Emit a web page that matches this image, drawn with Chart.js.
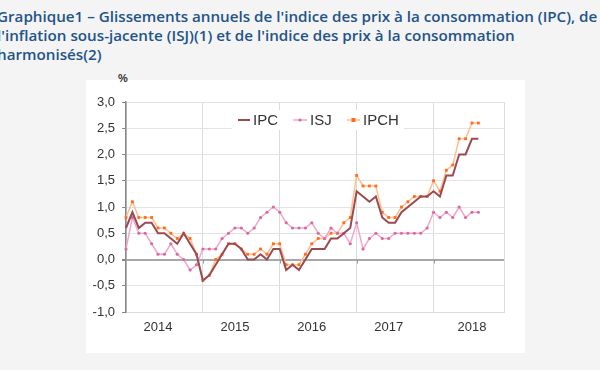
<!doctype html>
<html lang="fr">
<head>
<meta charset="UTF-8">
<title>Graphique1 – Glissements annuels IPC, ISJ, IPCH</title>
<script src="https://cdn.jsdelivr.net/npm/chart.js"></script>
<style>
  html, body { margin: 0; padding: 0; }
  body { width: 600px; height: 370px; background: #f4f4f4; position: relative; overflow: hidden; }
  .titre {
    position: absolute; left: -3px; top: 7px;
    font-family: "Open Sans", sans-serif; font-weight: 600; font-size: 15.2px; line-height: 19px;
    color: #22538a; white-space: nowrap;
  }
  .boite { position: absolute; left: 86px; top: 80px; width: 439px; height: 273px; background: #fff; }
  .pct { position: absolute; left: 118px; top: 72px; font: bold 11px "Liberation Sans", Arial, sans-serif; color: #333; }
  canvas { position: absolute; left: 0; top: 0; }
</style>
</head>
<body>
<div class="boite"></div>
<div class="titre">Graphique1 – Glissements annuels de l'indice des prix à la consommation (IPC), de<br>l'inflation sous-jacente (ISJ)(1) et de l'indice des prix à la consommation<br>harmonisés(2)</div>
<div class="pct">%</div>
<canvas id="graphique1" width="600" height="370"></canvas>

<script>
// années affichées sous l'axe
const annees = ['2014', '2015', '2016', '2017', '2018'];
const mois = ['01', '02', '03', '04', '05', '06', '07', '08', '09', '10', '11', '12'];

// glissements annuels en %, de janvier 2014 à août 2018
const ipc = [
  0.6, 0.9, 0.6, 0.7, 0.7, 0.5, 0.5, 0.4, 0.3, 0.5, 0.3, 0.1,
  -0.4, -0.3, -0.1, 0.1, 0.3, 0.3, 0.2, 0.0, 0.0, 0.1, 0.0, 0.2,
  0.2, -0.2, -0.1, -0.2, 0.0, 0.2, 0.2, 0.2, 0.4, 0.4, 0.5, 0.6,
  1.3, 1.2, 1.1, 1.2, 0.8, 0.7, 0.7, 0.9, 1.0, 1.1, 1.2, 1.2,
  1.3, 1.2, 1.6, 1.6, 2.0, 2.0, 2.3, 2.3
];
const isj = [
  0.2, 0.8, 0.5, 0.5, 0.3, 0.1, 0.1, 0.3, 0.1, 0.0, -0.2, -0.1,
  0.2, 0.2, 0.2, 0.4, 0.5, 0.6, 0.6, 0.5, 0.6, 0.8, 0.9, 1.0,
  0.9, 0.7, 0.6, 0.6, 0.6, 0.7, 0.5, 0.4, 0.6, 0.5, 0.5, 0.3,
  0.7, 0.2, 0.4, 0.5, 0.4, 0.4, 0.5, 0.5, 0.5, 0.5, 0.5, 0.6,
  0.9, 0.8, 0.9, 0.8, 1.0, 0.8, 0.9, 0.9
];
const ipch = [
  0.8, 1.1, 0.8, 0.8, 0.8, 0.6, 0.6, 0.5, 0.4, 0.5, 0.4, 0.1,
  -0.4, -0.3, 0.0, 0.1, 0.3, 0.3, 0.2, 0.1, 0.1, 0.2, 0.1, 0.3,
  0.3, -0.1, -0.1, -0.1, 0.1, 0.3, 0.4, 0.4, 0.5, 0.5, 0.7, 0.8,
  1.6, 1.4, 1.4, 1.4, 0.9, 0.8, 0.8, 1.0, 1.1, 1.2, 1.2, 1.2,
  1.5, 1.3, 1.7, 1.8, 2.3, 2.3, 2.6, 2.6
];

// un libellé par mois, l'axe va jusqu'à décembre 2018
const labels = [];
annees.forEach(a => mois.forEach(m => labels.push(m + '/' + a)));

const police = '"Liberation Sans", Arial, sans-serif';

// position de l'étiquette de l'année dans son groupe de 12 mois
const etiquetteAnnee = (i) => {
  const a = Math.floor(i / 12);
  const pos = a === annees.length - 1 ? 6 : 5;
  return i % 12 === pos ? annees[a] : '';
};

// légende posée dans la zone du graphique, sur fond blanc
const legendeInterne = {
  id: 'legendeInterne',
  beforeDatasetsDraw(chart) {
    const c = chart.ctx;
    const y = 120;
    const items = [
      { ds: 0, x: 238, w: 12, txt: 'IPC' },
      { ds: 1, x: 293, w: 14, txt: 'ISJ' },
      { ds: 2, x: 347, w: 13, txt: 'IPCH' }
    ];
    c.save();
    c.fillStyle = '#fff';
    c.fillRect(232, 110, 172, 20);
    c.font = '15px ' + police;
    c.textBaseline = 'middle';
    items.forEach(it => {
      const d = chart.data.datasets[it.ds];
      c.strokeStyle = d.borderColor;
      c.lineWidth = d.borderWidth;
      c.beginPath();
      c.moveTo(it.x, y);
      c.lineTo(it.x + it.w, y);
      c.stroke();
      if (d.pointRadius > 0) {
        c.fillStyle = d.pointBackgroundColor;
        const cx = it.x + it.w / 2;
        if (d.pointStyle === 'rect') {
          c.fillRect(cx - 2, y - 2, 4, 4);
        } else {
          c.beginPath();
          c.arc(cx, y, 1.6, 0, Math.PI * 2);
          c.fill();
        }
      }
      c.fillStyle = '#333';
      c.fillText(it.txt, it.x + it.w + 3, y + 1);
    });
    c.restore();
  }
};

// petites graduations sur la ligne du zéro, aux débuts d'année
const traitsZero = {
  id: 'traitsZero',
  afterDatasetsDraw(chart) {
    const c = chart.ctx;
    const y0 = chart.scales.y.getPixelForValue(0);
    c.save();
    c.strokeStyle = '#999';
    c.lineWidth = 1;
    for (let i = 12; i < labels.length; i += 12) {
      const x = Math.round(chart.scales.x.getPixelForValue(i)) + 0.5;
      c.beginPath();
      c.moveTo(x, y0);
      c.lineTo(x, y0 + 4);
      c.stroke();
    }
    c.restore();
  }
};

new Chart(document.getElementById('graphique1'), {
  type: 'line',
  data: {
    labels: labels,
    datasets: [
      {
        label: 'IPC',
        data: ipc,
        borderColor: '#9a4a50',
        borderWidth: 2,
        pointRadius: 0,
        tension: 0
      },
      {
        label: 'ISJ',
        data: isj,
        borderColor: '#f7a6cb',
        borderWidth: 1.5,
        pointRadius: 1.6,
        pointStyle: 'circle',
        pointBackgroundColor: '#d76aa0',
        pointBorderWidth: 0,
        tension: 0
      },
      {
        label: 'IPCH',
        data: ipch,
        borderColor: '#ffbf8f',
        borderWidth: 1.5,
        pointRadius: 2,
        pointStyle: 'rect',
        pointBackgroundColor: '#ff6d1c',
        pointBorderWidth: 0,
        tension: 0
      }
    ]
  },
  options: {
    responsive: false,
    animation: false,
    layout: { padding: { left: 86, right: 96, top: 102, bottom: 17 } },
    plugins: {
      legend: { display: false },
      tooltip: { enabled: false }
    },
    scales: {
      x: {
        ticks: {
          autoSkip: false,
          maxRotation: 0,
          padding: 8,
          color: '#333',
          font: { family: police, size: 13 },
          callback: (v, i) => etiquetteAnnee(i)
        },
        grid: {
          drawTicks: false,
          color: ctx => (ctx.index % 12 === 0 || ctx.index === labels.length - 1) ? '#dcdcdc' : 'transparent'
        },
        border: { color: '#dcdcdc' },
        afterFit: s => { s.height = 41; }
      },
      y: {
        min: -1,
        max: 3,
        ticks: {
          stepSize: 0.5,
          padding: 7,
          color: '#333',
          font: { family: police, size: 13 },
          callback: v => v.toFixed(1).replace('.', ',')
        },
        grid: {
          tickLength: 4,
          tickColor: '#888',
          color: ctx => (ctx.tick && ctx.tick.value === 0) ? '#a8a8a8' : '#e3e3e3',
          lineWidth: ctx => (ctx.tick && ctx.tick.value === 0) ? 2 : 1
        },
        border: { color: '#888', width: 1.5 },
        afterFit: s => { s.width = 40; }
      }
    }
  },
  plugins: [legendeInterne, traitsZero]
});
</script>
</body>
</html>
